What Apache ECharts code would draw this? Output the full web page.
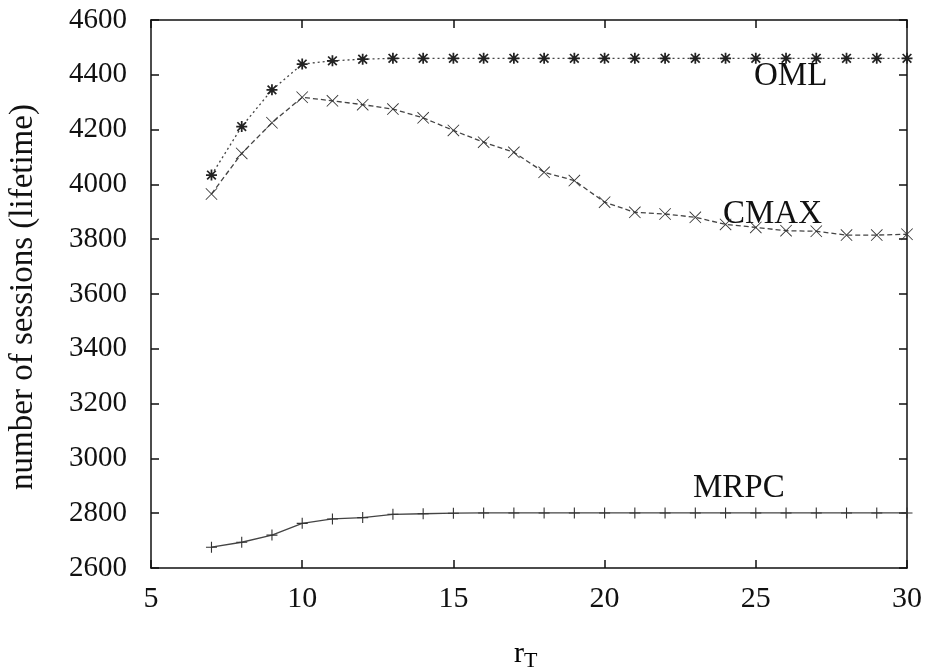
<!DOCTYPE html>
<html>
<head>
<meta charset="utf-8">
<script src="https://cdn.jsdelivr.net/npm/echarts@6/dist/echarts.min.js"></script>
<style>
html,body{margin:0;padding:0;background:#fff;}
#chart{width:925px;height:671px;}
</style>
</head>
<body>
<div id="chart"></div>
<script>
const rT = [7,8,9,10,11,12,13,14,15,16,17,18,19,20,21,22,23,24,25,26,27,28,29,30];
const omlValues = [4034,4211,4345,4439,4451,4457,4460,4460,4460,4460,4460,4460,4460,4460,4460,4460,4460,4460,4460,4460,4460,4460,4460,4460];
const cmaxValues = [3965,4113,4225,4318,4305,4291,4275,4243,4197,4154,4117,4044,4014,3935,3898,3892,3880,3854,3843,3831,3829,3815,3815,3818];
const mrpcValues = [2676,2694,2720,2763,2779,2784,2796,2798,2800,2801,2801,2801,2801,2801,2801,2801,2801,2801,2801,2801,2801,2801,2801,2801];
const seriesNames = ['OML','CMAX','MRPC'];
const xTicks = [5,10,15,20,25,30];
const yTicks = [2600,2800,3000,3200,3400,3600,3800,4000,4200,4400,4600];

const FONT = '"Liberation Serif", "DejaVu Serif", serif';
const plusPath = 'path://M-1,-10 L1,-10 L1,10 L-1,10 Z M-10,-1 L10,-1 L10,1 L-10,1 Z';
const crossPath = 'path://M-10,-9 L-9,-10 L10,9 L9,10 Z M9,-10 L10,-9 L-9,10 L-10,9 Z';
const starPath = 'path://M-1.6,-10 L1.6,-10 L1.6,10 L-1.6,10 Z M-10,-1.6 L10,-1.6 L10,1.6 L-10,1.6 Z M-9,-6.8 L-6.8,-9 L9,6.8 L6.8,9 Z M6.8,-9 L9,-6.8 L-6.8,9 L-9,6.8 Z';

function pairs(vals){ return rT.map((x,i)=>[x, vals[i]]); }

const chart = echarts.init(document.getElementById('chart'), null, {renderer:'canvas'});
const axisLine = {show:true, lineStyle:{color:'#111', width:1.5}};
const tickStyle = {show:true, inside:true, length:8, lineStyle:{color:'#111', width:1.5}};
chart.setOption({
  animation:false,
  backgroundColor:'#fff',
  grid:{left:151, right:18, top:20, bottom:103, containLabel:false},
  xAxis:[
    {type:'value', min:xTicks[0], max:xTicks[xTicks.length-1], interval:5, position:'bottom',
     axisLine:axisLine, axisTick:tickStyle, splitLine:{show:false},
     axisLabel:{fontFamily:FONT, fontSize:30, color:'#111', margin:16}},
    {type:'value', min:xTicks[0], max:xTicks[xTicks.length-1], interval:5, position:'top',
     axisLine:axisLine, axisTick:tickStyle, splitLine:{show:false}, axisLabel:{show:false}}
  ],
  yAxis:[
    {type:'value', min:yTicks[0], max:yTicks[yTicks.length-1], interval:200, position:'left',
     axisLine:axisLine, axisTick:tickStyle, splitLine:{show:false},
     axisLabel:{fontFamily:FONT, fontSize:29, color:'#111', margin:24, formatter:(v)=>String(v)}},
    {type:'value', min:yTicks[0], max:yTicks[yTicks.length-1], interval:200, position:'right',
     axisLine:axisLine, axisTick:tickStyle, splitLine:{show:false}, axisLabel:{show:false}}
  ],
  series:[
    {name:seriesNames[0], type:'line', data:pairs(omlValues), symbol:starPath, symbolSize:11,
     lineStyle:{color:'#444', width:1.3, type:[2,3]}, itemStyle:{color:'#222'}},
    {name:seriesNames[1], type:'line', data:pairs(cmaxValues), symbol:crossPath, symbolSize:12,
     lineStyle:{color:'#444', width:1.3, type:[5,3]}, itemStyle:{color:'#333'}},
    {name:seriesNames[2], type:'line', data:pairs(mrpcValues), symbol:plusPath, symbolSize:11,
     lineStyle:{color:'#444', width:1.3}, itemStyle:{color:'#333'}}
  ],
  graphic:[
    {type:'text', left:754, top:60, style:{text:seriesNames[0], font:'33px ' + FONT, fill:'#111'}},
    {type:'text', left:723, top:198, style:{text:seriesNames[1], font:'33px ' + FONT, fill:'#111'}},
    {type:'text', left:693, top:472, style:{text:seriesNames[2], font:'33px ' + FONT, fill:'#111'}},
    {type:'text', x:23, y:297, rotation:Math.PI/2,
     style:{text:'number of sessions (lifetime)', font:'33px ' + FONT, fill:'#111', textAlign:'center', textVerticalAlign:'middle'}},
    {type:'text', x:514, y:636,
     style:{text:'{r|r}{t|T}', rich:{r:{fontFamily:FONT, fontSize:30, color:'#111'}, t:{fontFamily:FONT, fontSize:22, color:'#111', padding:[14,0,0,0]}}}}
  ]
});
</script>
</body>
</html>
